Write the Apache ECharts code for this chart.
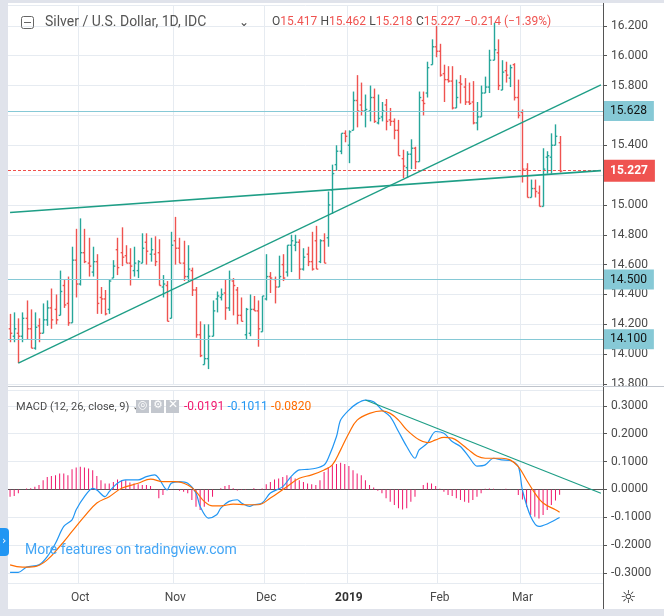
<!DOCTYPE html>
<html><head><meta charset="utf-8">
<script src="https://cdn.jsdelivr.net/npm/echarts@6/dist/echarts.min.js"></script>
<style>html,body{margin:0;padding:0;background:#fff}#c{width:664px;height:616px}</style>
</head><body><div id="c"></div>
<script>
const opens=[14.17,14.12,14.14,14.12,14.24,14.17,14.04,14.19,14.14,14.23,14.31,14.30,14.26,14.46,14.34,14.21,14.63,14.47,14.68,14.61,14.55,14.62,14.38,14.37,14.30,14.51,14.70,14.68,14.66,14.61,14.56,14.56,14.61,14.75,14.67,14.67,14.68,14.45,14.46,14.24,14.76,14.71,14.61,14.52,14.56,14.43,14.13,13.93,13.97,14.12,14.37,14.38,14.41,14.31,14.49,14.43,14.26,14.13,14.14,14.30,14.29,14.15,14.37,14.52,14.50,14.45,14.60,14.55,14.73,14.73,14.75,14.57,14.67,14.62,14.76,14.62,14.76,14.78,15.10,15.27,15.36,15.48,15.40,15.50,15.70,15.67,15.63,15.63,15.72,15.55,15.59,15.67,15.57,15.56,15.50,15.31,15.25,15.34,15.38,15.29,15.70,15.75,15.94,16.06,16.03,15.88,15.84,15.83,15.65,15.82,15.79,15.69,15.69,15.55,15.59,15.75,15.79,15.97,16.02,15.77,15.90,15.85,15.94,15.72,15.62,15.24,15.05,15.11,15.08,14.99,15.32,15.32,15.40,15.417];
const highs=[14.27,14.28,14.24,14.28,14.36,14.30,14.28,14.24,14.34,14.36,14.44,14.40,14.56,14.50,14.52,14.72,14.84,14.91,14.84,14.78,14.72,14.67,14.45,14.43,14.50,14.63,14.78,14.85,14.73,14.71,14.72,14.63,14.81,14.81,14.78,14.79,14.77,14.53,14.49,14.82,14.92,14.78,14.76,14.73,14.58,14.45,14.22,14.20,14.20,14.36,14.42,14.44,14.50,14.56,14.51,14.45,14.38,14.31,14.40,14.39,14.36,14.39,14.67,14.55,14.52,14.66,14.67,14.73,14.80,14.80,14.77,14.71,14.72,14.82,14.86,14.77,14.81,15.09,15.27,15.40,15.48,15.50,15.50,15.76,15.87,15.82,15.74,15.80,15.78,15.74,15.69,15.71,15.65,15.58,15.57,15.37,15.36,15.44,15.39,15.76,15.76,15.96,16.11,16.20,16.08,15.94,15.93,15.93,15.84,15.87,15.85,15.82,15.83,15.69,15.80,15.86,16.04,16.22,16.11,15.97,15.96,15.94,15.95,15.84,15.64,15.28,15.17,15.17,15.13,15.38,15.36,15.48,15.54,15.462];
const lows=[14.08,14.08,13.94,14.08,14.10,14.04,14.03,14.08,14.14,14.19,14.17,14.20,14.26,14.31,14.19,14.21,14.38,14.46,14.61,14.52,14.52,14.27,14.27,14.26,14.27,14.51,14.53,14.59,14.61,14.46,14.52,14.51,14.61,14.60,14.62,14.59,14.46,14.38,14.22,14.24,14.60,14.61,14.49,14.49,14.39,14.11,13.98,13.93,13.90,14.12,14.28,14.36,14.23,14.29,14.26,14.20,14.22,14.10,14.12,14.29,14.05,14.15,14.36,14.41,14.34,14.45,14.49,14.52,14.55,14.69,14.50,14.56,14.59,14.56,14.57,14.61,14.61,14.72,14.94,15.23,15.34,15.42,15.28,15.50,15.52,15.60,15.52,15.56,15.55,15.54,15.56,15.50,15.53,15.44,15.33,15.18,15.18,15.24,15.24,15.29,15.60,15.72,15.94,15.99,15.86,15.69,15.82,15.64,15.65,15.68,15.67,15.67,15.54,15.50,15.59,15.75,15.75,15.97,15.77,15.77,15.82,15.79,15.70,15.58,15.15,15.05,15.05,15.05,14.99,14.99,15.21,15.21,15.40,15.218];
const closes=[14.14,14.17,14.12,14.24,14.17,14.04,14.18,14.14,14.23,14.31,14.23,14.23,14.42,14.33,14.21,14.63,14.47,14.68,14.62,14.59,14.62,14.34,14.37,14.27,14.49,14.59,14.58,14.65,14.61,14.59,14.61,14.62,14.71,14.69,14.70,14.62,14.46,14.47,14.22,14.73,14.71,14.61,14.52,14.57,14.43,14.13,13.99,13.97,14.12,14.29,14.39,14.40,14.31,14.50,14.46,14.26,14.22,14.30,14.30,14.29,14.17,14.39,14.52,14.51,14.45,14.52,14.51,14.73,14.76,14.75,14.57,14.65,14.62,14.57,14.57,14.76,14.61,15.00,15.21,15.36,15.48,15.46,15.49,15.70,15.63,15.63,15.64,15.72,15.56,15.58,15.63,15.56,15.56,15.50,15.33,15.26,15.34,15.38,15.29,15.72,15.68,15.92,16.06,16.03,15.87,15.84,15.83,15.65,15.72,15.81,15.69,15.68,15.55,15.59,15.75,15.79,15.97,16.04,15.80,15.89,15.87,15.92,15.72,15.60,15.24,15.05,15.11,15.09,14.99,15.24,15.33,15.40,15.46,15.227];
const macdPts=[[0,-0.298],[2,-0.298],[4,-0.279],[7,-0.271],[9,-0.241],[11,-0.193],[13,-0.133],[15,-0.109],[16,-0.073],[18,-0.026],[20,0.004],[21,-0.002],[23,-0.026],[24,-0.008],[26,0.022],[28,0.034],[31,0.034],[33,0.046],[35,0.052],[36,0.040],[38,-0.002],[39,0.022],[41,0.028],[43,0.022],[45,-0.013],[46,-0.061],[48,-0.103],[50,-0.091],[51,-0.067],[53,-0.043],[55,-0.037],[56,-0.049],[58,-0.061],[59,-0.055],[61,-0.049],[63,-0.013],[66,0.010],[68,0.046],[70,0.070],[72,0.072],[74,0.076],[76,0.088],[77,0.112],[79,0.190],[80,0.249],[82,0.285],[84,0.309],[86,0.321],[88,0.315],[90,0.285],[92,0.261],[94,0.208],[96,0.154],[98,0.112],[99,0.142],[101,0.166],[103,0.208],[105,0.202],[107,0.172],[109,0.154],[111,0.118],[113,0.084],[115,0.088],[117,0.112],[119,0.106],[121,0.104],[123,0.082],[124,-0.002],[126,-0.097],[128,-0.133],[130,-0.124],[132,-0.109],[133,-0.1011]];
const signalPts=[[0,-0.271],[3,-0.279],[6,-0.277],[9,-0.253],[12,-0.205],[15,-0.151],[18,-0.097],[21,-0.049],[24,-0.026],[27,0.004],[31,0.022],[34,0.037],[37,0.028],[40,0.028],[43,0.016],[45,-0.008],[47,-0.043],[49,-0.059],[51,-0.059],[54,-0.053],[57,-0.055],[60,-0.055],[63,-0.031],[67,0.010],[70,0.040],[73,0.052],[76,0.070],[78,0.088],[80,0.142],[82,0.202],[84,0.249],[87,0.273],[90,0.282],[92,0.273],[94,0.249],[96,0.214],[99,0.178],[101,0.168],[103,0.178],[105,0.187],[107,0.184],[109,0.166],[111,0.142],[113,0.120],[115,0.112],[117,0.112],[119,0.112],[121,0.106],[123,0.082],[125,0.034],[127,-0.013],[129,-0.049],[132,-0.073],[133,-0.0820]];
const hist=[-0.026,-0.024,-0.014,0,0.003,0.004,0.01,0.016,0.033,0.045,0.048,0.051,0.057,0.057,0.051,0.072,0.079,0.081,0.079,0.075,0.069,0.048,0.033,0.021,0.021,0.027,0.036,0.033,0.033,0.025,0.021,0.019,0.016,0.016,0.012,-0.002,-0.032,-0.02,0.002,0.001,0,-0.005,-0.008,-0.014,-0.038,-0.062,-0.074,-0.062,-0.044,-0.026,0,0.004,0.012,0.016,0.004,-0.004,-0.002,-0.002,0,0.004,-0.002,0.003,0.019,0.027,0.036,0.039,0.045,0.051,0.045,0.039,0.033,0.027,0.021,0.019,0.016,0.033,0.063,0.079,0.087,0.091,0.096,0.091,0.084,0.069,0.057,0.051,0.033,0.016,0.007,-0.005,-0.014,-0.032,-0.044,-0.056,-0.068,-0.072,-0.068,-0.044,-0.026,0,0.016,0.024,0.021,0.012,0.002,-0.008,-0.02,-0.024,-0.032,-0.038,-0.044,-0.048,-0.038,-0.026,-0.014,0.002,0.003,0.002,0,0.001,0.002,0.001,0,-0.02,-0.036,-0.062,-0.092,-0.098,-0.104,-0.092,-0.074,-0.056,-0.04,-0.0191];
const levels=[15.628,14.500,14.100];
const lastPrice=15.227;
const trendLower=[[2,13.94],[143,15.805]];
const trendUpper=[[0,14.949],[143,15.23]];
const macdTrend=[[86,0.321],[143,-0.0136]];
const monthNames=['Jan','Feb','Mar','Apr','May','Jun','Jul','Aug','Sep','Oct','Nov','Dec'];
const TOTAL=144;

const dates=[];let d=new Date(Date.UTC(2018,8,6));
while(dates.length<TOTAL){const w=d.getUTCDay();const m=d.getUTCMonth(),dd=d.getUTCDate();
 if(w!==0&&w!==6&&!(m===11&&dd===25)&&!(m===0&&dd===1))dates.push(new Date(d));d=new Date(d.getTime()+86400000);}
const cats=dates.map((x,i)=>String(i));
const isMonthStart=i=>i>0&&dates[i].getUTCMonth()!==dates[i-1].getUTCMonth();
const monthLabel=i=>{const m=dates[i].getUTCMonth();return m===0?'{b|'+dates[i].getUTCFullYear()+'}':monthNames[m];};

const UP='#26a69a',DN='#ef5350';
const ohlc=opens.map((o,i)=>[i,o,highs[i],lows[i],closes[i]]);
const macdData=new Array(TOTAL).fill(null);macdPts.forEach(p=>macdData[p[0]]=p[1]);
const sigData=new Array(TOTAL).fill(null);signalPts.forEach(p=>sigData[p[0]]=p[1]);

const chart=echarts.init(document.getElementById('c'));
const gridLine={lineStyle:{color:'#e6ebf1',width:1}};
const xBase=(gi,showLabel)=>({type:'category',gridIndex:gi,data:cats,boundaryGap:true,
 axisLine:{show:showLabel,lineStyle:{color:'#555'}},axisTick:{show:false},
 axisLabel:{show:showLabel,interval:(i)=>isMonthStart(i),formatter:(v,i)=>monthLabel(+v),color:'#4a4a4a',fontSize:12,margin:9,fontFamily:'Roboto',rich:{b:{fontWeight:'bold',color:'#333',fontSize:12,fontFamily:'Roboto'}}},
 splitLine:{show:true,interval:(i)=>isMonthStart(i),...gridLine}});
const lvlLines=levels.map(v=>({yAxis:v,lineStyle:{color:'#86c9d6',width:1.2,type:'solid'},
 label:{show:true,position:'end',distance:0,formatter:v.toFixed(3),backgroundColor:'#86c9d6',color:'#111',padding:[4,7,4,7],fontSize:12,fontFamily:'Roboto'}}));
lvlLines.push({yAxis:lastPrice,lineStyle:{color:'#f0504c',width:1.2,type:[3,2],opacity:1},
 label:{show:true,position:'end',distance:0,formatter:lastPrice.toFixed(3),backgroundColor:'#ef5350',color:'#fff',padding:[5,7,5,7],fontSize:12,fontWeight:'bold',fontFamily:'Roboto'}});
const seg=(p,w)=>[{coord:[p[0][0],p[0][1]],lineStyle:{color:'#1e9e86',width:w,type:'solid'}},{coord:[p[1][0],p[1][1]]}];

chart.setOption({
 animation:false,
 grid:[{left:8,top:5,width:595,height:379},{left:8,top:390,width:595,height:193}],
 xAxis:[xBase(0,false),xBase(1,true)],
 yAxis:[
  {type:'value',gridIndex:0,position:'right',min:13.8,max:16.34,splitNumber:12,
   axisLine:{show:true,lineStyle:{color:'#555'}},axisTick:{show:true,length:4,lineStyle:{color:'#555'}},
   axisLabel:{formatter:v=>v.toFixed(3),color:'#4a4a4a',fontSize:12,fontFamily:'Roboto',showMinLabel:true,showMaxLabel:false},
   splitLine:{show:true,...gridLine}},
  {type:'value',gridIndex:1,position:'right',min:-0.336,max:0.357,splitNumber:7,
   axisLine:{show:true,lineStyle:{color:'#555'}},axisTick:{show:true,length:4,lineStyle:{color:'#555'}},
   axisLabel:{formatter:v=>v.toFixed(4),color:'#4a4a4a',fontSize:12,fontFamily:'Roboto',showMinLabel:false,showMaxLabel:false},
   splitLine:{show:true,...gridLine}}],
 series:[
  {type:'custom',xAxisIndex:0,yAxisIndex:0,data:ohlc,clip:true,
   renderItem:(params,api)=>{const i=api.value(0);const o=api.coord([i,api.value(1)]),h=api.coord([i,api.value(2)]),l=api.coord([i,api.value(3)]),c=api.coord([i,api.value(4)]);
    const col=api.value(4)>=api.value(1)?UP:DN;const x=Math.round(h[0])+0.5;const t=1.8;
    const st={stroke:col,lineWidth:1.4};
    return {type:'group',children:[
     {type:'line',shape:{x1:x,y1:h[1],x2:x,y2:l[1]},style:st},
     {type:'line',shape:{x1:x-t,y1:o[1],x2:x,y2:o[1]},style:st},
     {type:'line',shape:{x1:x,y1:c[1],x2:x+t,y2:c[1]},style:st}]};},
   markLine:{symbol:'none',silent:true,data:lvlLines.concat([seg(trendLower,1.3),seg(trendUpper,1.6)])}},
  {type:'bar',xAxisIndex:1,yAxisIndex:1,data:hist,barWidth:1,itemStyle:{color:'#f0166b'},
   markLine:{symbol:'none',silent:true,label:{show:false},data:[seg(macdTrend,1.2)]}},
  {type:'line',xAxisIndex:1,yAxisIndex:1,data:macdData,connectNulls:true,smooth:0.3,showSymbol:false,lineStyle:{color:'#2196f3',width:1.2}},
  {type:'line',xAxisIndex:1,yAxisIndex:1,data:sigData,connectNulls:true,smooth:0.4,showSymbol:false,lineStyle:{color:'#ff6d00',width:1.2}}
 ],
 graphic:[
  {type:'rect',shape:{x:0,y:0,width:8,height:616},style:{fill:'#e0e3eb'},z:100},
  {type:'rect',shape:{x:0,y:609,width:664,height:7},style:{fill:'#e0e3eb'},z:100},
  {type:'rect',shape:{x:0,y:0,width:664,height:3},style:{fill:'#e0e3eb'},z:100},
  {type:'line',shape:{x1:8,y1:386.5,x2:664,y2:386.5},style:{stroke:'#bfc4cc',lineWidth:1},z:100},
  {type:'rect',shape:{x:21.5,y:16.5,width:12,height:12,r:2},style:{fill:'none',stroke:'#666',lineWidth:1},z:100},
  {type:'line',shape:{x1:24,y1:22.5,x2:31,y2:22.5},style:{stroke:'#666',lineWidth:1},z:100},
  {type:'text',x:45,y:15,style:{text:'Silver / U.S. Dollar, 1D, IDC',fill:'#555',font:'14px Roboto'},z:100},
  {type:'text',x:239,y:17,style:{text:'⌄',fill:'#4a4a4a',font:'12px DejaVu Sans'},z:100},
  {type:'text',x:272,y:16,style:{text:'{k|O}{r|15.417} {k|H}{r|15.462} {k|L}{r|15.218} {k|C}{r|15.227} {r|−0.214 (−1.39%)}',
    rich:{k:{fill:'#4a4a4a',font:'12px Roboto'},r:{fill:'#ef5350',font:'12px Roboto'}}},z:100},
  {type:'text',x:16,y:402,style:{text:'MACD (12, 26, close, 9) ⌄',fill:'#4a4a4a',font:'11px Roboto'},z:100},
  {type:'rect',shape:{x:136,y:400,width:13,height:13},style:{fill:'#c3c7ce'},z:100},
  {type:'rect',shape:{x:151,y:400,width:13,height:13},style:{fill:'#c3c7ce'},z:100},
  {type:'rect',shape:{x:166,y:400,width:13,height:13},style:{fill:'#c3c7ce'},z:100},
  {type:'text',x:138,y:400,style:{text:'◎',fill:'#fff',font:'11px DejaVu Sans'},z:101},
  {type:'text',x:153,y:400,style:{text:'⚙',fill:'#fff',font:'11px DejaVu Sans'},z:101},
  {type:'text',x:168,y:399,style:{text:'✕',fill:'#fff',font:'12px DejaVu Sans'},z:101},
  {type:'text',x:184,y:401,style:{text:'{p|-0.0191} {b|-0.1011} {o|-0.0820}',rich:{p:{fill:'#f0166b',font:'12px Roboto'},b:{fill:'#2196f3',font:'12px Roboto'},o:{fill:'#ff6d00',font:'12px Roboto'}}},z:100},
  {type:'text',x:25,y:543,style:{text:'More features on tradingview.com',fill:'#42a5f5',font:'14px Roboto'},z:100},
  {type:'rect',shape:{x:0,y:528,width:9,height:28,r:[0,4,4,0]},style:{fill:'#2196f3'},z:101},
  {type:'text',x:2,y:536,style:{text:'›',fill:'#fff',font:'11px DejaVu Sans'},z:102},
  {type:'line',shape:{x1:603.5,y1:3,x2:603.5,y2:609},style:{stroke:'#555',lineWidth:1},z:99},
  {type:'text',x:620,y:589,style:{text:'☼',fill:'#333',font:'18px DejaVu Sans'},z:100}
 ]
});
</script></body></html>
